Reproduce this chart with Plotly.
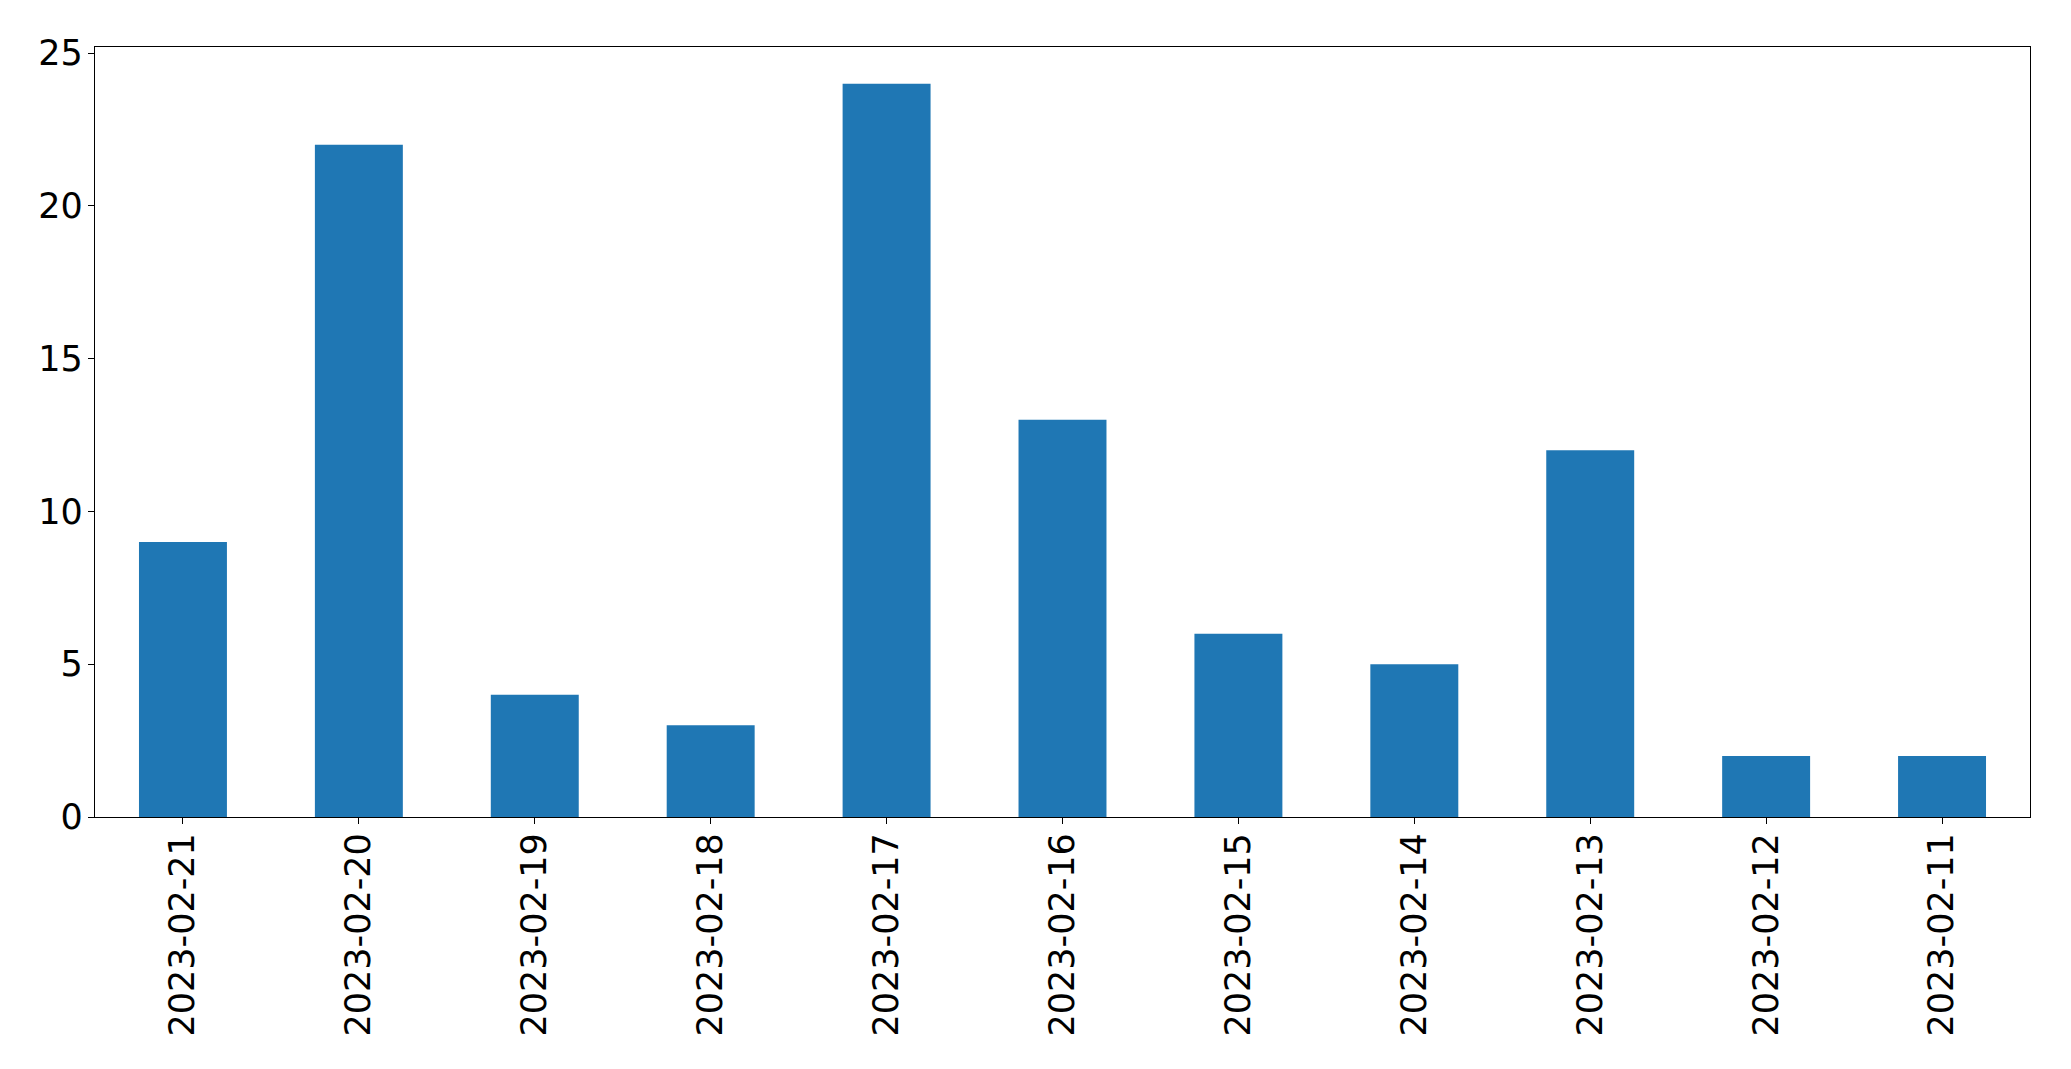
import plotly.graph_objects as go

dates = ["2023-02-21", "2023-02-20", "2023-02-19", "2023-02-18", "2023-02-17",
         "2023-02-16", "2023-02-15", "2023-02-14", "2023-02-13", "2023-02-12", "2023-02-11"]
counts = [9, 22, 4, 3, 24, 13, 6, 5, 12, 2, 2]
y_ticks = [0, 5, 10, 15, 20, 25]

fig = go.Figure(go.Bar(x=dates, y=counts, width=0.5, marker=dict(color="#1f77b4", line=dict(width=0))))

font = dict(family="DejaVu Sans", size=35, color="black")
fig.update_layout(
    width=2071, height=1069,
    margin=dict(l=87, r=49, t=39, b=260, pad=0),
    plot_bgcolor="white", paper_bgcolor="white",
    showlegend=False, font=font,
)
fig.update_xaxes(
    type="category", range=[-0.5, 10.5], tickangle=-90,
    showline=True, mirror=True, linecolor="black", linewidth=1.3,
    ticks="outside", ticklen=6, tickwidth=1.3, tickcolor="black",
    showgrid=False, tickfont=font, ticklabelstandoff=-5,
)
fig.update_yaxes(
    range=[0, 25.2], tickvals=y_ticks,
    showline=True, mirror=True, linecolor="black", linewidth=1.3,
    ticks="outside", ticklen=6, tickwidth=1.3, tickcolor="black",
    showgrid=False, zeroline=False, tickfont=font, ticklabelstandoff=-2,
)
fig.write_html("out.html")
